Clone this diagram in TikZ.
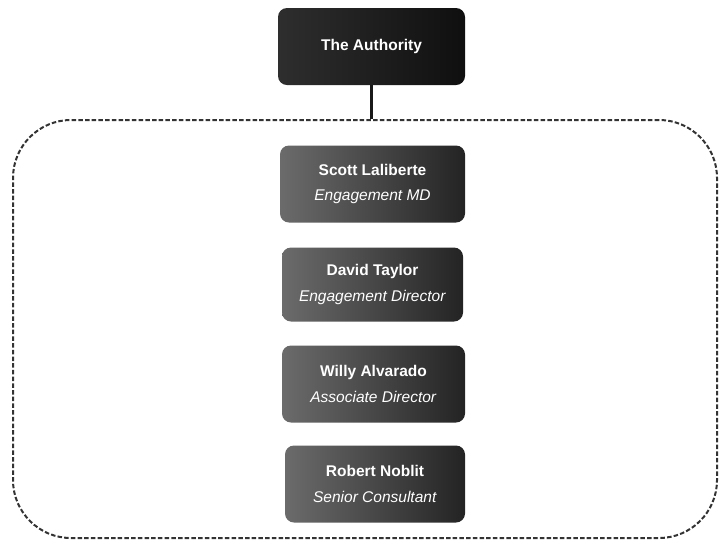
\documentclass[tikz,border=0pt]{standalone}
\usepackage{fontspec}
\setmainfont{Liberation Sans}
\begin{document}
\begin{tikzpicture}[x=1pt,y=-1pt,
  orgbox/.style={rounded corners=9pt, draw=none, text=white, align=center,
    left color=black!58, right color=black!86, inner sep=0pt,
    font=\fontsize{15.5}{25.5}\selectfont},
  topbox/.style={orgbox, left color=black!82, right color=black!94},
  container/.style={draw=black!80, dashed, dash pattern=on 4.5pt off 2.2pt,
    line width=2pt, rounded corners=58pt, inner sep=0pt},
  link/.style={draw=black!90, line width=2.6pt}]
\useasboundingbox (0,0) rectangle (719,542);
\node[container, minimum width=704pt, minimum height=418pt] (grp) at (365,329) {};
\node[topbox, minimum width=187pt, minimum height=77pt] (auth) at (371.5,46.5) {\textbf{The Authority}};
\node[orgbox, minimum width=185pt, minimum height=77pt] (scott) at (372.5,184)
  {\textbf{Scott Laliberte}\\\textit{Engagement MD}};
\node[orgbox, minimum width=181pt, minimum height=74pt] (david) at (372.5,284.5)
  {\textbf{David Taylor}\\\textit{Engagement Director}};
\node[orgbox, minimum width=183pt, minimum height=77pt] (willy) at (373.5,384)
  {\textbf{Willy Alvarado}\\\textit{Associate Director}};
\node[orgbox, minimum width=180pt, minimum height=77pt] (robert) at (375,484)
  {\textbf{Robert Noblit}\\\textit{Senior Consultant}};
\draw[link] (auth.south) -- (auth.south |- grp.north);
\end{tikzpicture}
\end{document}
